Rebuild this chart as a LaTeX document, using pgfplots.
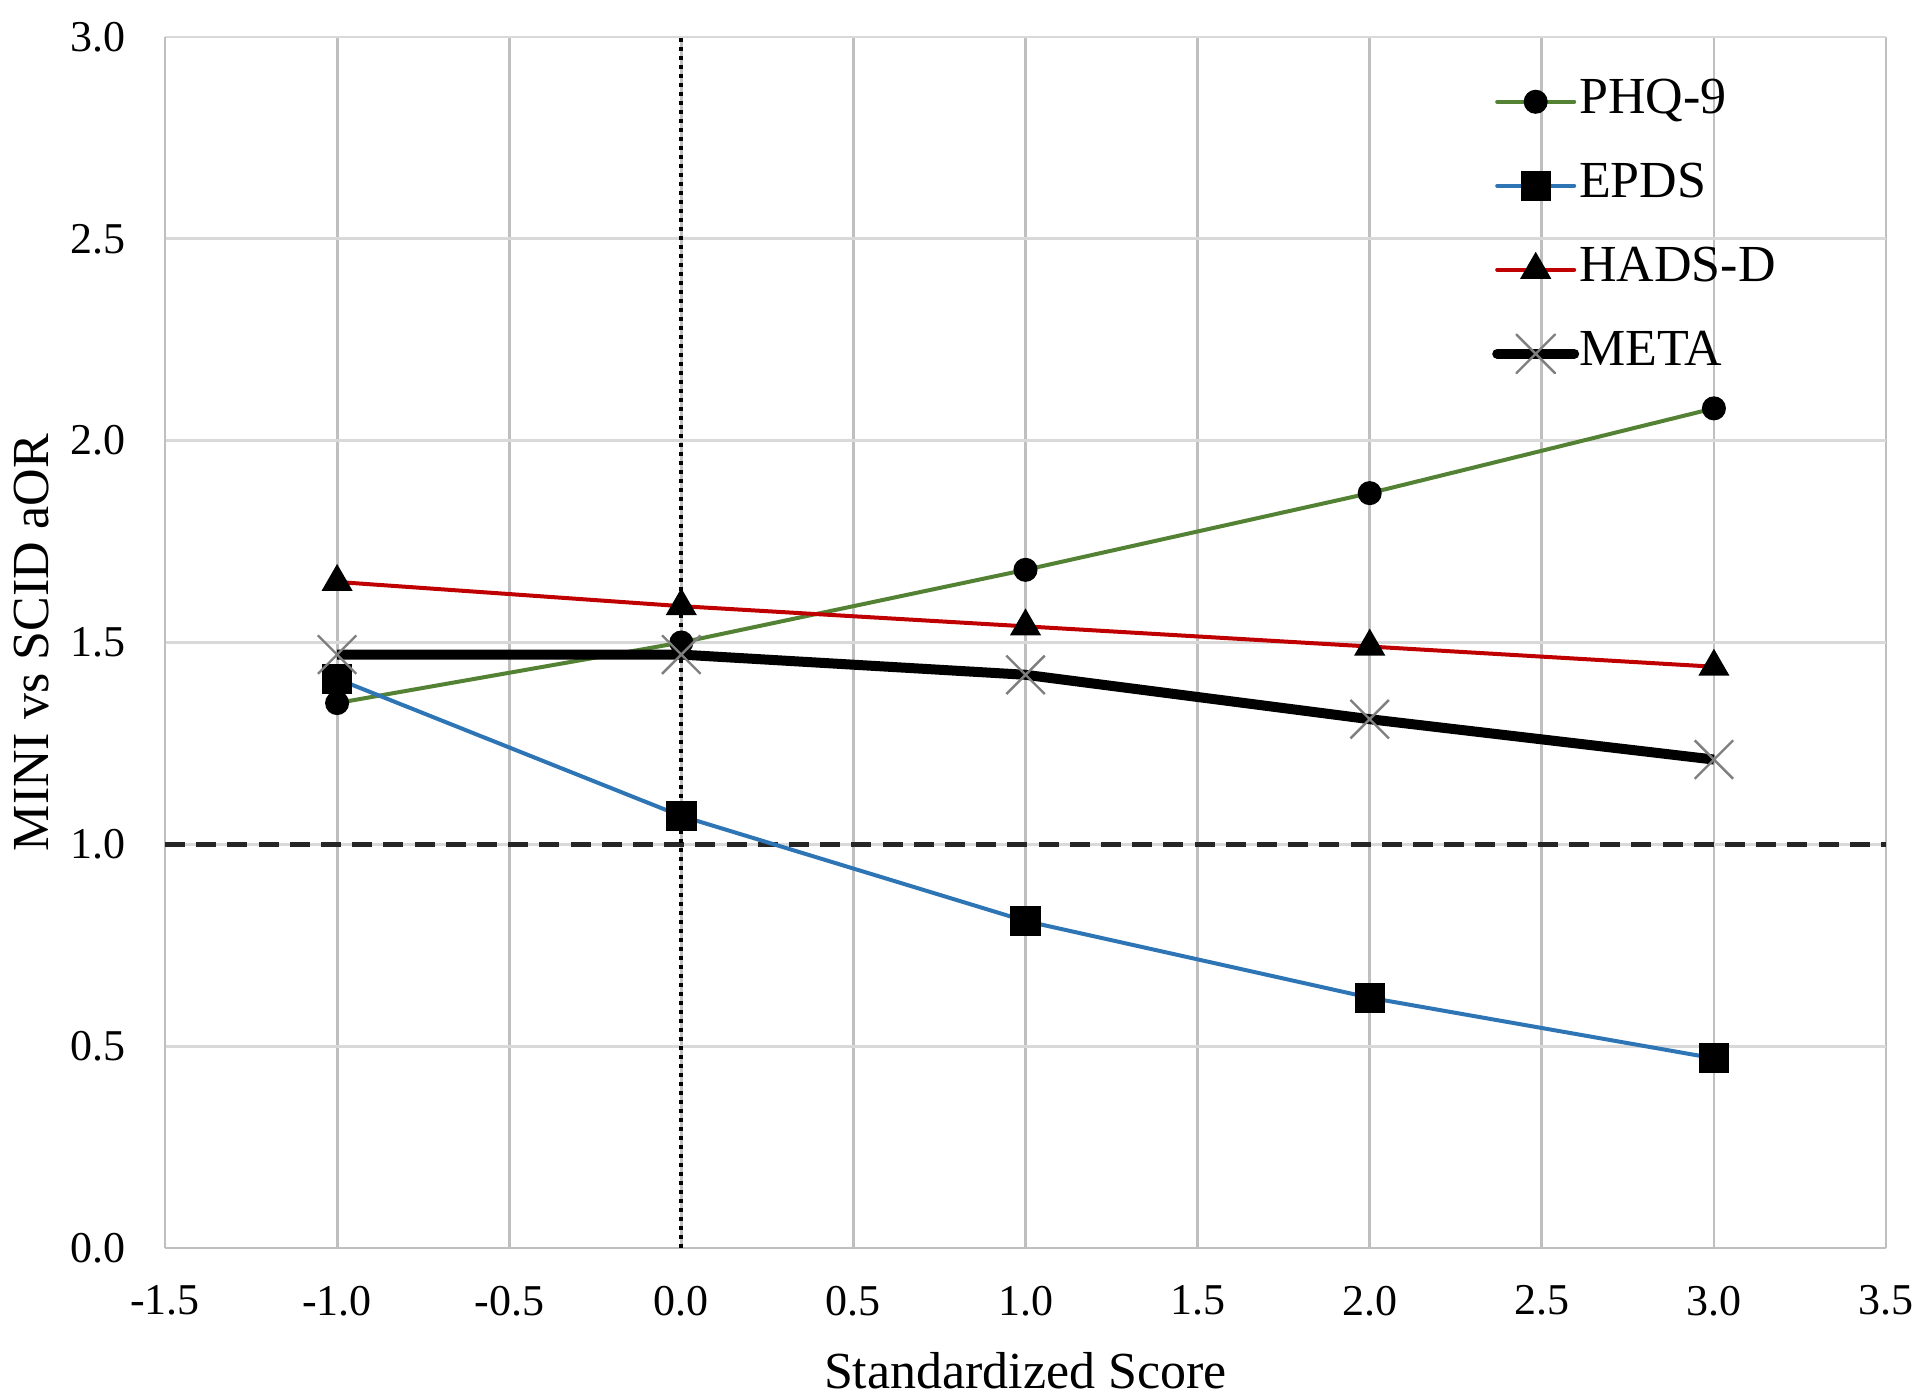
\documentclass[border=0pt]{standalone}
\usepackage{pgfplots}
\pgfplotsset{compat=1.18}
\usepackage{fontspec}
\setmainfont{Liberation Serif}
\definecolor{phqgreen}{HTML}{548235}
\definecolor{epdsblue}{HTML}{2E75B6}
\definecolor{hadsred}{HTML}{C00000}
\definecolor{gridh}{HTML}{D9D9D9}
\definecolor{gridv}{HTML}{BFBFBF}
\definecolor{metax}{HTML}{7F7F7F}
\begin{document}
\begin{tikzpicture}
\begin{axis}[
  scale only axis, width=430.25pt, height=302.75pt,
  xmin=-1.5, xmax=3.5, ymin=0, ymax=3,
  xtick={-1.5,-1,-0.5,0,0.5,1,1.5,2,2.5,3,3.5},
  ytick={0,0.5,1,1.5,2,2.5,3},
  xticklabels={-1.5,-1.0,-0.5,0.0,0.5,1.0,1.5,2.0,2.5,3.0,3.5},
  yticklabels={0.0,0.5,1.0,1.5,2.0,2.5,3.0},
  major tick length=0pt,
  tick label style={font=\fontsize{11}{13}\selectfont},
  xticklabel style={anchor=north, inner sep=0pt, yshift=-9.25pt},
  yticklabel style={anchor=east, inner sep=0pt, xshift=-9.75pt},
  grid=major,
  major x grid style={gridv, line width=0.7pt},
  major y grid style={gridh, line width=0.7pt},
  axis x line*=bottom, axis y line*=left,
  axis line style={gridv, line width=0.7pt},
  xlabel={Standardized Score}, ylabel={MINI vs SCID aOR},
  every axis x label/.style={at={(axis description cs:0.5,-0.0857)}, anchor=north, inner sep=0pt, font=\fontsize{13}{15}\selectfont},
  every axis y label/.style={at={(axis description cs:-0.0883,0.5)}, rotate=90, anchor=north, inner sep=0pt, font=\fontsize{13}{15}\selectfont},
  legend cell align=left,
  legend style={draw=none, fill=none, at={(axis description cs:0.7707,0.967)}, anchor=north west, inner sep=0pt, row sep=9pt, column sep=0pt, font=\fontsize{13}{15}\selectfont, nodes={inner sep=0pt, text height=9pt, text depth=3pt}},
  legend image code/.code={\draw[mark repeat=2,mark phase=2,line cap=round,#1] plot coordinates {(0pt,0pt) (9.625pt,0pt) (19.25pt,0pt)};},
]
\addplot[forget plot, draw=black!85, line width=1.2pt, dash pattern=on 5pt off 2.8pt] coordinates {(-1.5,1) (3.5,1)};
\addplot[forget plot, black, line width=1pt, dash pattern=on 1.1pt off 1.15pt] coordinates {(0,0) (0,3)};

\addplot[phqgreen, line width=1pt, mark=*, mark size=2.5pt, mark options={fill=black, draw=black, solid}] coordinates {(-1,1.35) (0,1.50) (1,1.68) (2,1.87) (3,2.08)};
\addlegendentry{PHQ-9}
\addplot[epdsblue, line width=1pt, mark=square*, mark size=3.3pt, mark options={fill=black, draw=black, solid}] coordinates {(-1,1.41) (0,1.07) (1,0.81) (2,0.62) (3,0.47)};
\addlegendentry{EPDS}
\addplot[hadsred, line width=1pt, mark=triangle*, mark size=3.5pt, mark options={fill=black, draw=black, solid}] coordinates {(-1,1.65) (0,1.59) (1,1.54) (2,1.49) (3,1.44)};
\addlegendentry{HADS-D}
\addplot[black, line width=2.5pt, mark=x, mark size=6.8pt, mark options={draw=metax, line width=0.6pt, solid}] coordinates {(-1,1.47) (0,1.47) (1,1.42) (2,1.31) (3,1.21)};
\addlegendentry{META}
\end{axis}
\path (current axis.south west) ++(-41.25pt,-37.75pt) coordinate (bl);
\path (current axis.north east) ++(8.5pt,9.25pt) coordinate (tr);
\pgfresetboundingbox
\path[use as bounding box] (bl) rectangle (tr);
\end{tikzpicture}
\end{document}
